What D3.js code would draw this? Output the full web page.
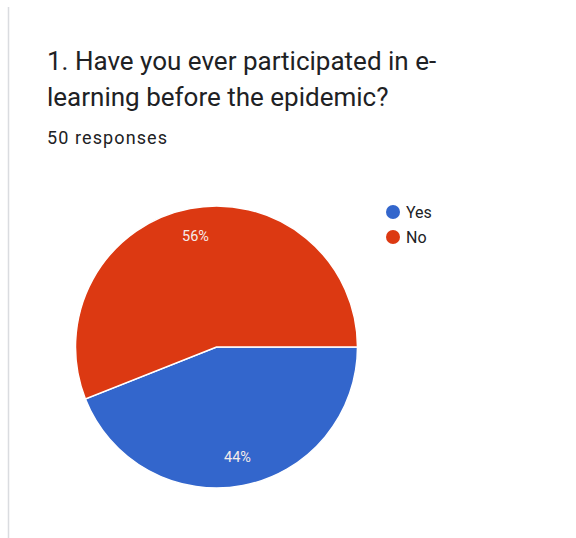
<!DOCTYPE html>
<html><head><meta charset="utf-8">
<script src="https://cdn.jsdelivr.net/npm/d3@7/dist/d3.min.js"></script>
<style>html,body{margin:0;padding:0;background:#fff;}svg{display:block;}</style>
</head><body>
<script>
const titleLines = ["1. Have you ever participated in e-", "learning before the epidemic?"];
const subtitle = "50 responses";
const categories = ["Yes", "No"];
const values = [44, 56];
const colors = ["#3366cc", "#dc3912"];

const W = 576, H = 538;
const svg = d3.select("body").append("svg").attr("width", W).attr("height", H);
svg.append("rect").attr("width", W).attr("height", H).attr("fill", "#fff");
svg.append("line").attr("x1", 8.5).attr("x2", 8.5).attr("y1", 7).attr("y2", H)
  .attr("stroke", "#dadce0").attr("stroke-width", 1.5);

svg.selectAll("text.title").data(titleLines).join("text").attr("class", "title")
  .attr("x", 47).attr("y", (d, i) => 70 + i * 36)
  .attr("font-family", "Roboto, sans-serif").attr("font-size", 26)
  .attr("fill", "#202124").text(d => d);

svg.append("text").attr("x", 47).attr("y", 144)
  .attr("font-family", "Roboto, sans-serif").attr("font-size", 18)
  .attr("letter-spacing", 1.1)
  .attr("fill", "#202124").text(subtitle);

const cx = 216.5, cy = 347, r = 141;
const color = d3.scaleOrdinal().domain(categories).range(colors);
const pie = d3.pie().sort(null).value(d => d.v)
  .startAngle(Math.PI / 2).endAngle(Math.PI / 2 + 2 * Math.PI);
const data = categories.map((c, i) => ({ c, v: values[i] }));
const arcs = pie(data);
const arc = d3.arc().innerRadius(0).outerRadius(r);
const labelArc = d3.arc().innerRadius(112).outerRadius(112);
const total = d3.sum(values);

const g = svg.append("g").attr("transform", `translate(${cx},${cy})`);
g.selectAll("path").data(arcs).join("path")
  .attr("d", arc).attr("fill", d => color(d.data.c))
  .attr("stroke", "#fff").attr("stroke-width", 1.5);
g.selectAll("text").data(arcs).join("text")
  .attr("transform", d => `translate(${labelArc.centroid(d)})`)
  .attr("text-anchor", "middle").attr("dominant-baseline", "central")
  .attr("font-family", "Roboto, sans-serif").attr("font-size", 14.5)
  .attr("fill", "#f5ecea")
  .text(d => Math.round(d.data.v / total * 100) + "%");

const lg = svg.append("g").attr("transform", "translate(393,212)");
const items = lg.selectAll("g").data(categories).join("g")
  .attr("transform", (d, i) => `translate(0,${i * 25})`);
items.append("circle").attr("r", 7).attr("fill", d => color(d));
items.append("text").attr("x", 13).attr("dominant-baseline", "central")
  .attr("font-family", "Roboto, sans-serif").attr("font-size", 16)
  .attr("fill", "#202124").text(d => d);
</script>
</body></html>
